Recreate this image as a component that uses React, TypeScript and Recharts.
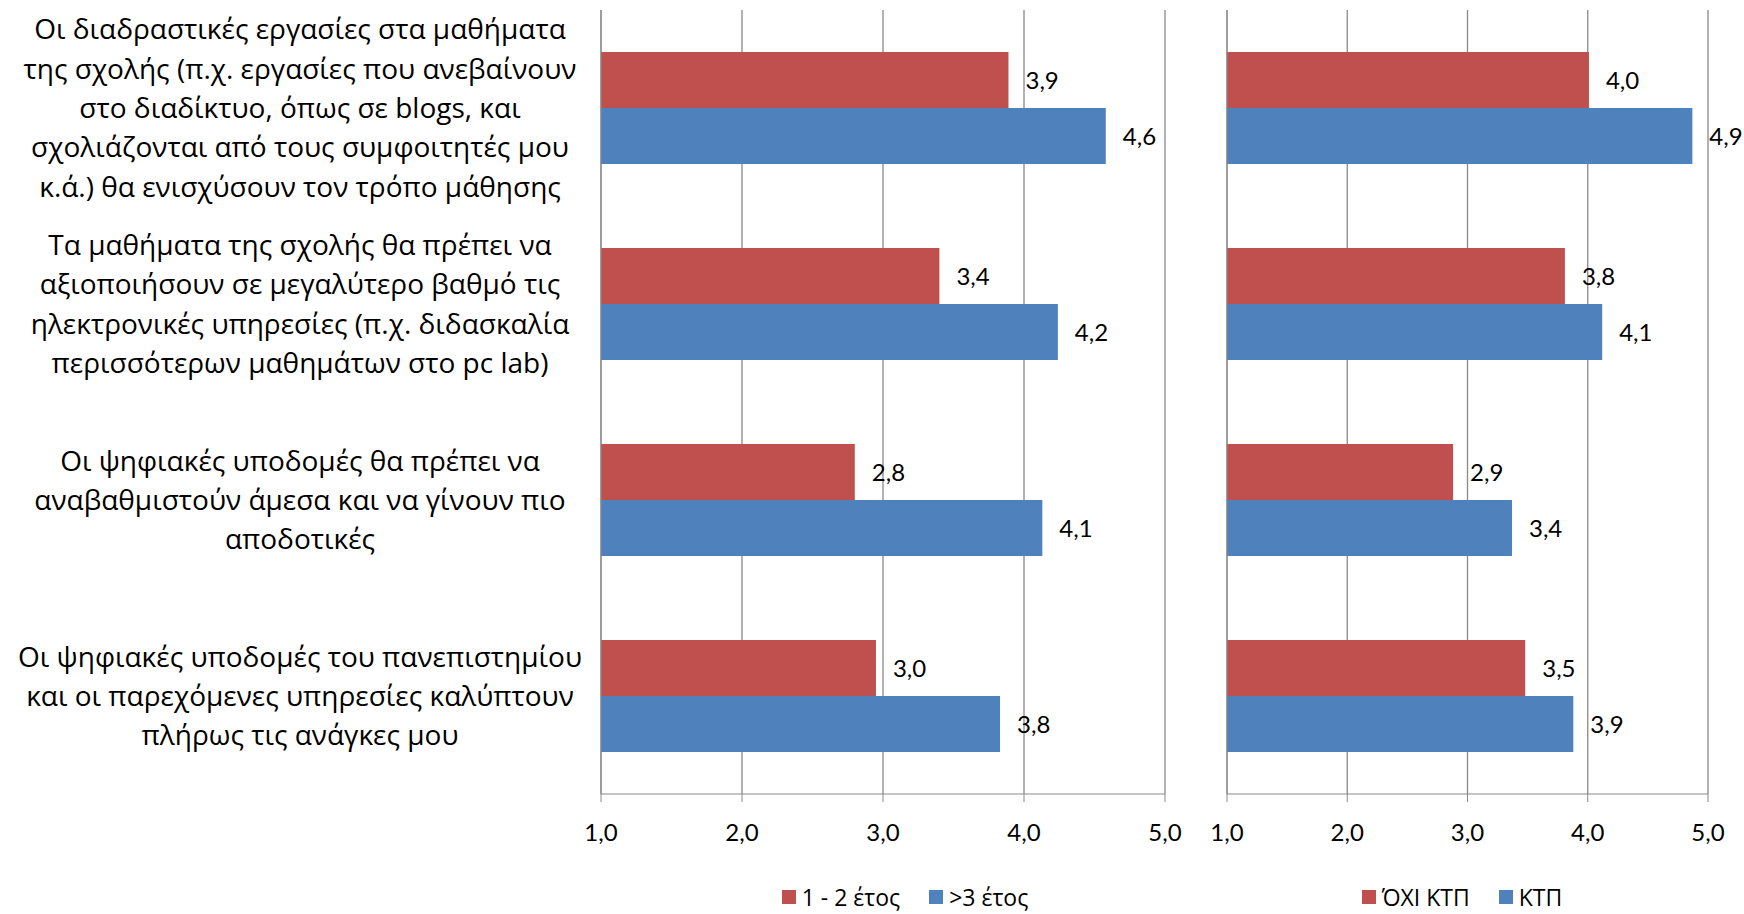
import React from 'react';
import { BarChart, Bar, XAxis, YAxis, CartesianGrid, Legend, LabelList } from 'recharts';

// category texts, split in lines as in the original
const categoryLines: string[][] = [
  [
    'Οι διαδραστικές εργασίες στα μαθήματα',
    'της σχολής (π.χ. εργασίες που ανεβαίνουν',
    'στο διαδίκτυο, όπως σε blogs, και',
    'σχολιάζονται από τους συμφοιτητές μου',
    'κ.ά.) θα ενισχύσουν τον τρόπο μάθησης',
  ],
  [
    'Τα μαθήματα της σχολής θα πρέπει να',
    'αξιοποιήσουν σε μεγαλύτερο βαθμό τις',
    'ηλεκτρονικές υπηρεσίες (π.χ. διδασκαλία',
    'περισσότερων μαθημάτων στο pc lab)',
  ],
  [
    'Οι ψηφιακές υποδομές θα πρέπει να',
    'αναβαθμιστούν άμεσα και να γίνουν πιο',
    'αποδοτικές',
  ],
  [
    'Οι ψηφιακές υποδομές του πανεπιστημίου',
    'και οι παρεχόμενες υπηρεσίες καλύπτουν',
    'πλήρως τις ανάγκες μου',
  ],
];
const categories = categoryLines.map(l => l.join(' '));

// left panel: year of study
const year12 = [3.89, 3.4, 2.8, 2.95];
const year3plus = [4.58, 4.24, 4.13, 3.83];

// right panel: KTP
const notKtp = [4.01, 3.81, 2.88, 3.48];
const ktp = [4.87, 4.12, 3.37, 3.88];

const xTicks = [1, 2, 3, 4, 5];
const bandTicks = [0, 1, 2, 3, 4];

const leftData = categories.map((c, i) => ({ name: c, a: year12[i], b: year3plus[i] }));
const rightData = categories.map((c, i) => ({ name: c, a: notKtp[i], b: ktp[i] }));

const RED = '#C0504D';
const BLUE = '#4F81BD';
const GRID = '#898989';
const NUM_FONT = 'Lato, "Noto Sans", sans-serif';
const TEXT_FONT = '"Open Sans", "Noto Sans", sans-serif';

const fmt = (v: number) => v.toFixed(1).replace('.', ',');

const CategoryTick = (props: any) => {
  const { y, payload } = props;
  const lines = categoryLines[payload.index] || [];
  const lh = 39.4;
  const start = y - ((lines.length - 1) * lh) / 2;
  return (
    <text x={300} y={start} textAnchor="middle" fontFamily={TEXT_FONT} fontSize={28} fill="#000">
      {lines.map((l, i) => (
        <tspan key={i} x={300} y={start + i * lh} dy="0.36em">
          {l}
        </tspan>
      ))}
    </text>
  );
};

const LegendContent = (props: any) => {
  const items = props.payload || [];
  return (
    <div
      style={{
        display: 'flex',
        justifyContent: 'center',
        alignItems: 'center',
        height: 30,
        fontFamily: TEXT_FONT,
        fontSize: 23,
        lineHeight: '30px',
        color: '#000',
        gap: 29,
      }}
    >
      {items.map((e: any) => (
        <span key={e.value} style={{ display: 'flex', alignItems: 'center' }}>
          <span style={{ width: 14, height: 14, background: e.color, marginRight: 6, display: 'inline-block' }} />
          {e.value}
        </span>
      ))}
    </div>
  );
};

const Panel = ({ data, names, showLabels, width, margin, legendStyle }: any) => (
  <BarChart
    layout="vertical"
    width={width}
    height={914}
    data={data}
    margin={margin}
    barCategoryGap={42}
    barGap={0}
  >
    <CartesianGrid yAxisId="cat" horizontal={false} stroke={GRID} strokeWidth={1.3} />
    <XAxis
      type="number"
      domain={[1, 5]}
      ticks={xTicks}
      tickFormatter={fmt}
      height={88}
      tickSize={8}
      tickMargin={22}
      stroke={GRID}
      tick={{ fill: '#000', fontSize: 24, fontFamily: NUM_FONT }}
    />
    <YAxis
      yAxisId="band"
      type="number"
      domain={[0, 4]}
      ticks={bandTicks}
      width={showLabels ? 8 : 47}
      tickSize={8}
      tick={false}
      stroke={GRID}
    />
    <YAxis
      yAxisId="cat"
      type="category"
      dataKey="name"
      width={593}
      hide={!showLabels}
      axisLine={false}
      tickLine={false}
      interval={0}
      tick={<CategoryTick />}
    />
    <Legend verticalAlign="bottom" content={<LegendContent />} wrapperStyle={legendStyle} />
    <Bar yAxisId="cat" dataKey="a" name={names[0]} fill={RED} isAnimationActive={false}>
      <LabelList dataKey="a" position="right" offset={17} formatter={fmt} fill="#000" fontSize={24} fontFamily={NUM_FONT} />
    </Bar>
    <Bar yAxisId="cat" dataKey="b" name={names[1]} fill={BLUE} isAnimationActive={false}>
      <LabelList dataKey="b" position="right" offset={17} formatter={fmt} fill="#000" fontSize={24} fontFamily={NUM_FONT} />
    </Bar>
  </BarChart>
);

export default function App() {
  return (
    <div style={{ position: 'relative', width: 1744, height: 914, background: '#fff', overflow: 'hidden' }}>
      <style>{'body{margin:0}'}</style>
      <div style={{ position: 'absolute', left: 0, top: 0 }}>
        <Panel
          data={leftData}
          names={['1 - 2 έτος', '>3 έτος']}
          showLabels
          width={1200}
          margin={{ top: 10, right: 35, bottom: 2, left: 0 }}
          legendStyle={{ left: 760, width: 290, bottom: 2 }}
        />
      </div>
      <div style={{ position: 'absolute', left: 1180, top: 0 }}>
        <Panel
          data={rightData}
          names={['ΌΧΙ ΚΤΠ', 'ΚΤΠ']}
          showLabels={false}
          width={564}
          margin={{ top: 10, right: 36, bottom: 2, left: 0 }}
          legendStyle={{ left: 0, width: 564, bottom: 2 }}
        />
      </div>
    </div>
  );
}
